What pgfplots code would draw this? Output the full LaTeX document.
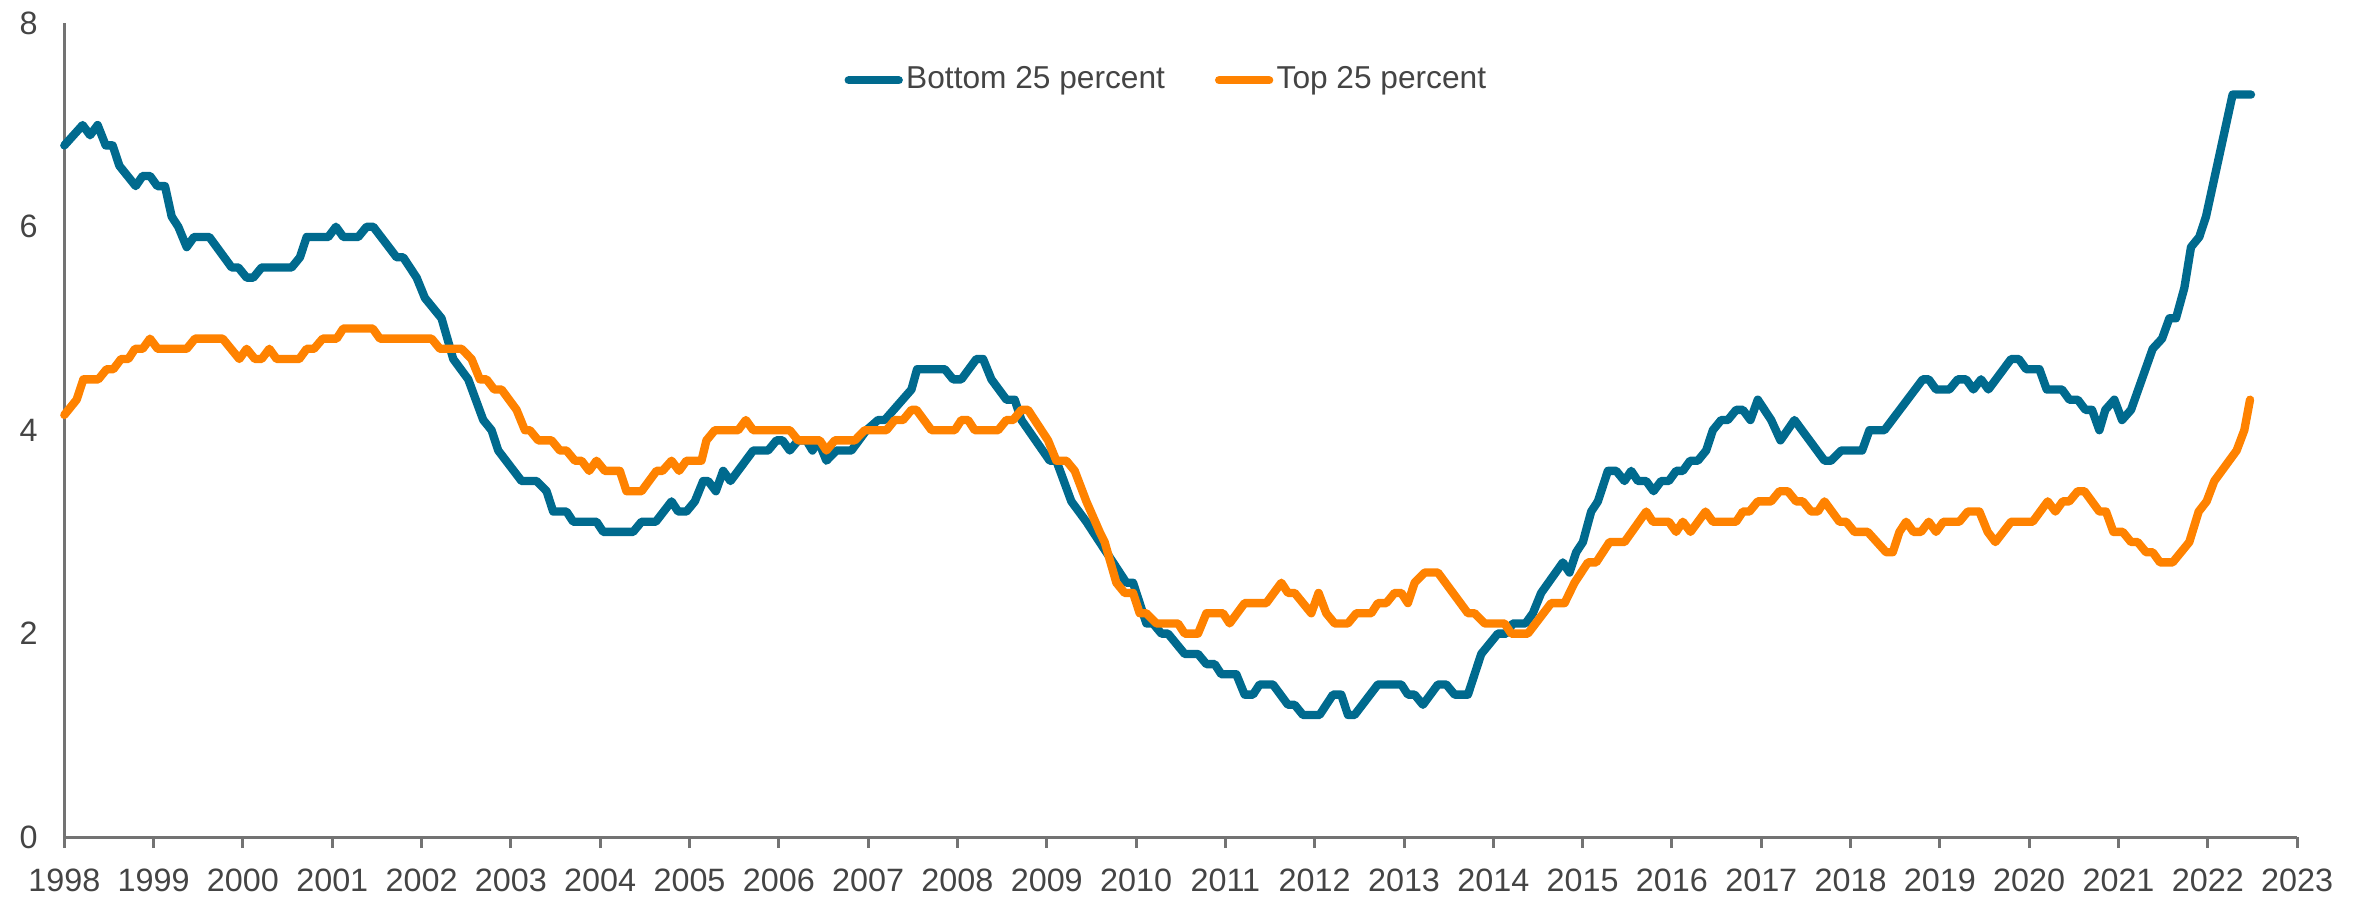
\documentclass[border=0pt]{standalone}
\usepackage{fontspec}
\setmainfont{Liberation Sans}
\usepackage{pgfplots}
\pgfplotsset{compat=1.18}
\definecolor{bluel}{RGB}{0,106,142}
\definecolor{orangel}{RGB}{255,130,0}
\definecolor{axisgray}{RGB}{115,115,115}
\definecolor{textgray}{RGB}{68,68,68}

\pgfplotstableread{
x y
1998.000 6.8
1998.205 7.0
1998.288 6.9
1998.373 7.0
1998.463 6.8
1998.541 6.8
1998.616 6.6
1998.799 6.4
1998.877 6.5
1998.959 6.5
1999.041 6.4
1999.127 6.4
1999.202 6.1
1999.276 6.0
1999.370 5.8
1999.452 5.9
1999.623 5.9
1999.873 5.6
1999.948 5.6
2000.041 5.5
2000.116 5.5
2000.209 5.6
2000.545 5.6
2000.638 5.7
2000.713 5.9
2000.955 5.9
2001.041 6.0
2001.123 5.9
2001.291 5.9
2001.384 6.0
2001.459 6.0
2001.720 5.7
2001.794 5.7
2001.944 5.5
2002.037 5.3
2002.223 5.1
2002.354 4.7
2002.522 4.5
2002.690 4.1
2002.783 4.0
2002.858 3.8
2003.119 3.5
2003.287 3.5
2003.399 3.4
2003.473 3.2
2003.622 3.2
2003.697 3.1
2003.958 3.1
2004.033 3.0
2004.368 3.0
2004.462 3.1
2004.622 3.1
2004.798 3.3
2004.872 3.2
2004.965 3.2
2005.059 3.3
2005.152 3.5
2005.208 3.5
2005.294 3.4
2005.376 3.6
2005.458 3.5
2005.712 3.8
2005.879 3.8
2005.973 3.9
2006.040 3.9
2006.122 3.8
2006.215 3.9
2006.308 3.9
2006.376 3.8
2006.439 3.9
2006.532 3.7
2006.644 3.8
2006.812 3.8
2006.980 4.0
2007.110 4.1
2007.185 4.1
2007.484 4.4
2007.547 4.6
2007.857 4.6
2007.950 4.5
2008.043 4.5
2008.211 4.7
2008.286 4.7
2008.379 4.5
2008.547 4.3
2008.640 4.3
2008.715 4.1
2009.032 3.7
2009.106 3.7
2009.274 3.3
2009.442 3.1
2009.591 2.9
2009.741 2.7
2009.890 2.5
2009.965 2.5
2010.114 2.1
2010.188 2.1
2010.282 2.0
2010.356 2.0
2010.543 1.8
2010.692 1.8
2010.786 1.7
2010.879 1.7
2010.953 1.6
2011.121 1.6
2011.214 1.4
2011.308 1.4
2011.382 1.5
2011.531 1.5
2011.699 1.3
2011.774 1.3
2011.867 1.2
2012.053 1.2
2012.203 1.4
2012.296 1.4
2012.371 1.2
2012.445 1.2
2012.706 1.5
2012.968 1.5
2013.042 1.4
2013.117 1.4
2013.210 1.3
2013.378 1.5
2013.471 1.5
2013.565 1.4
2013.714 1.4
2013.863 1.8
2014.049 2.0
2014.143 2.0
2014.217 2.1
2014.359 2.1
2014.441 2.2
2014.534 2.4
2014.777 2.7
2014.851 2.6
2014.926 2.8
2015.001 2.9
2015.094 3.2
2015.169 3.3
2015.281 3.6
2015.374 3.6
2015.467 3.5
2015.542 3.6
2015.617 3.5
2015.710 3.5
2015.792 3.4
2015.877 3.5
2015.963 3.5
2016.045 3.6
2016.120 3.6
2016.202 3.7
2016.288 3.7
2016.381 3.8
2016.456 4.0
2016.549 4.1
2016.624 4.1
2016.717 4.2
2016.792 4.2
2016.877 4.1
2016.959 4.3
2017.109 4.1
2017.213 3.9
2017.370 4.1
2017.706 3.7
2017.780 3.7
2017.892 3.8
2018.127 3.8
2018.209 4.0
2018.377 4.0
2018.806 4.5
2018.873 4.5
2018.955 4.4
2019.104 4.4
2019.198 4.5
2019.291 4.5
2019.373 4.4
2019.459 4.5
2019.541 4.4
2019.795 4.7
2019.881 4.7
2019.963 4.6
2020.112 4.6
2020.194 4.4
2020.365 4.4
2020.447 4.3
2020.541 4.3
2020.627 4.2
2020.701 4.2
2020.783 4.0
2020.850 4.2
2020.951 4.3
2021.037 4.1
2021.138 4.2
2021.380 4.8
2021.485 4.9
2021.567 5.1
2021.641 5.1
2021.735 5.4
2021.809 5.8
2021.902 5.9
2021.977 6.1
2022.275 7.3
2022.481 7.3
}\bottomdata

\pgfplotstableread{
x y
1998.000 4.15
1998.138 4.3
1998.213 4.5
1998.381 4.5
1998.474 4.6
1998.549 4.6
1998.635 4.7
1998.717 4.7
1998.791 4.8
1998.877 4.8
1998.959 4.9
1999.045 4.8
1999.370 4.8
1999.463 4.9
1999.773 4.9
1999.959 4.7
2000.041 4.8
2000.134 4.7
2000.209 4.7
2000.295 4.8
2000.377 4.7
2000.630 4.7
2000.713 4.8
2000.795 4.8
2000.892 4.9
2001.049 4.9
2001.123 5.0
2001.452 5.0
2001.533 4.9
2002.112 4.9
2002.205 4.8
2002.447 4.8
2002.559 4.7
2002.652 4.5
2002.727 4.5
2002.813 4.4
2002.895 4.4
2003.063 4.2
2003.156 4.0
2003.212 4.0
2003.305 3.9
2003.455 3.9
2003.548 3.8
2003.622 3.8
2003.716 3.7
2003.790 3.7
2003.876 3.6
2003.958 3.7
2004.051 3.6
2004.219 3.6
2004.294 3.4
2004.462 3.4
2004.630 3.6
2004.697 3.6
2004.798 3.7
2004.883 3.6
2004.965 3.7
2005.133 3.7
2005.189 3.9
2005.283 4.0
2005.544 4.0
2005.630 4.1
2005.712 4.0
2006.122 4.0
2006.215 3.9
2006.458 3.9
2006.532 3.8
2006.626 3.9
2006.850 3.9
2006.961 4.0
2007.204 4.0
2007.297 4.1
2007.390 4.1
2007.484 4.2
2007.540 4.2
2007.708 4.0
2007.969 4.0
2008.043 4.1
2008.118 4.1
2008.192 4.0
2008.454 4.0
2008.547 4.1
2008.622 4.1
2008.715 4.2
2008.789 4.2
2009.013 3.9
2009.106 3.7
2009.218 3.7
2009.312 3.6
2009.442 3.3
2009.591 3.0
2009.647 2.9
2009.778 2.5
2009.871 2.4
2009.965 2.4
2010.039 2.2
2010.114 2.2
2010.226 2.1
2010.468 2.1
2010.543 2.0
2010.692 2.0
2010.786 2.2
2010.972 2.2
2011.046 2.1
2011.214 2.3
2011.457 2.3
2011.625 2.5
2011.699 2.4
2011.774 2.4
2011.960 2.2
2012.042 2.4
2012.128 2.2
2012.222 2.1
2012.371 2.1
2012.464 2.2
2012.632 2.2
2012.706 2.3
2012.800 2.3
2012.893 2.4
2012.968 2.4
2013.042 2.3
2013.117 2.5
2013.229 2.6
2013.378 2.6
2013.714 2.2
2013.789 2.2
2013.901 2.1
2014.124 2.1
2014.199 2.0
2014.385 2.0
2014.646 2.3
2014.796 2.3
2014.907 2.5
2015.057 2.7
2015.150 2.7
2015.299 2.9
2015.467 2.9
2015.710 3.2
2015.784 3.1
2015.963 3.1
2016.045 3.0
2016.120 3.1
2016.206 3.0
2016.374 3.2
2016.456 3.1
2016.717 3.1
2016.792 3.2
2016.866 3.2
2016.959 3.3
2017.109 3.3
2017.202 3.4
2017.295 3.4
2017.388 3.3
2017.463 3.3
2017.556 3.2
2017.631 3.2
2017.706 3.3
2017.873 3.1
2017.948 3.1
2018.041 3.0
2018.190 3.0
2018.396 2.8
2018.470 2.8
2018.545 3.0
2018.620 3.1
2018.702 3.0
2018.787 3.0
2018.873 3.1
2018.955 3.0
2019.037 3.1
2019.216 3.1
2019.310 3.2
2019.440 3.2
2019.533 3.0
2019.619 2.9
2019.795 3.1
2020.037 3.1
2020.205 3.3
2020.291 3.2
2020.373 3.3
2020.447 3.3
2020.541 3.4
2020.616 3.4
2020.783 3.2
2020.858 3.2
2020.940 3.0
2021.045 3.0
2021.138 2.9
2021.212 2.9
2021.306 2.8
2021.380 2.8
2021.462 2.7
2021.604 2.7
2021.790 2.9
2021.895 3.2
2021.984 3.3
2022.070 3.5
2022.320 3.8
2022.406 4.0
2022.470 4.3
}\topdata

\begin{document}
\begin{tikzpicture}
\begin{axis}[
  at={(0,0)}, anchor=south west,
  scale only axis, width=669.9pt, height=244.1pt,
  xmin=1998, xmax=2023, ymin=0, ymax=8,
  axis x line=bottom, axis y line=left,
  axis line style={axisgray, line width=0.9pt, -},
  xtick={1998,1999,...,2023},
  ytick={0,2,4,6,8},
  tick align=outside,
  major tick length=3.3pt,
  x tick style={axisgray, line width=0.9pt},
  y tick style={draw=none},
  tick label style={font=\fontsize{9.7}{11}\selectfont, text=textgray},
  /pgf/number format/assume math mode=true,
  /pgf/number format/1000 sep={},
  yticklabel style={xshift=-1.2pt},
  xticklabel style={yshift=-2.7pt},
  legend style={draw=none, fill=none, at={(0.4938,0.93)}, anchor=center,
    font=\fontsize{9.5}{11}\selectfont, text=textgray,
    nodes={inner sep=1pt},
    /tikz/every even column/.append style={column sep=14pt}},
  legend columns=2,
  legend image code/.code={\draw[#1, line width=2.5pt, line cap=round] (0pt,0pt) -- (15pt,0pt);},
  clip=false,
]
\addplot[bluel, line width=2.5pt, line join=round, line cap=round] table[x=x,y=y] {\bottomdata};
\addlegendentry{Bottom 25 percent}
\addplot[orangel, line width=2.5pt, line join=round, line cap=round] table[x=x,y=y] {\topdata};
\addlegendentry{Top 25 percent}
\end{axis}
\pgfresetboundingbox
\path (-19.3pt,-17.7pt) rectangle (691.4pt,251.1pt);
\end{tikzpicture}
\end{document}
